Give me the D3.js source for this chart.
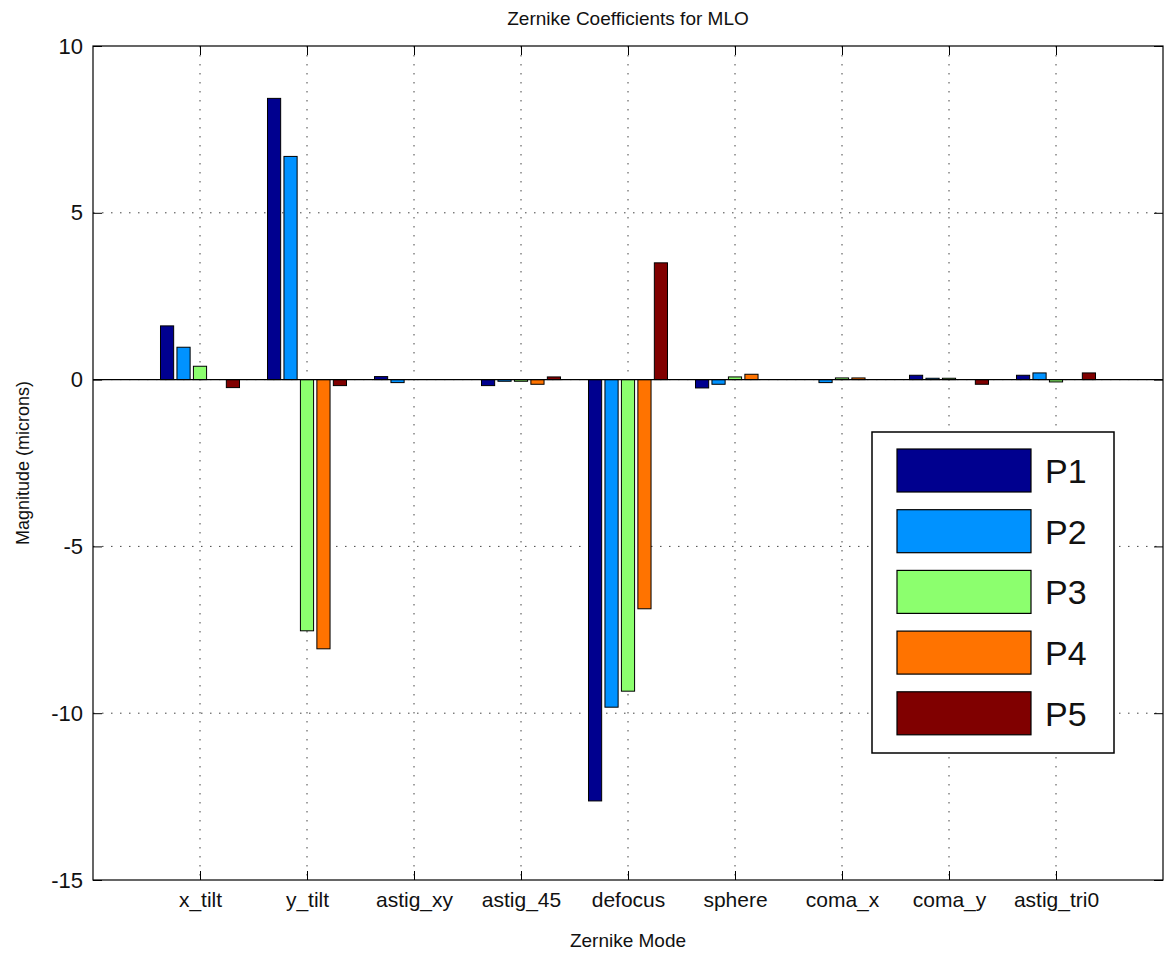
<!DOCTYPE html>
<html>
<head>
<meta charset="utf-8">
<script src="https://cdn.jsdelivr.net/npm/d3@7"></script>
<style>
  html, body { margin: 0; padding: 0; background: #ffffff; }
  svg text { font-family: "Liberation Sans", Arial, sans-serif; fill: #111; }
</style>
</head>
<body>
<svg id="chart" width="1164" height="964"></svg>
<script>
// Zernike modes along the x axis
const categories = ["x_tilt", "y_tilt", "astig_xy", "astig_45", "defocus", "sphere", "coma_x", "coma_y", "astig_tri0"];

// Coefficient magnitudes (microns) per position
const P1 = [1.61, 8.43, 0.09, -0.18, -12.63, -0.25, 0.00, 0.13, 0.13];
const P2 = [0.97, 6.69, -0.09, -0.05, -9.82, -0.14, -0.09, 0.04, 0.20];
const P3 = [0.40, -7.53, 0.00, -0.05, -9.34, 0.08, 0.05, 0.04, -0.07];
const P4 = [0.00, -8.07, 0.00, -0.14, -6.87, 0.16, 0.05, 0.00, 0.00];
const P5 = [-0.24, -0.18, 0.00, 0.08, 3.50, 0.00, 0.00, -0.14, 0.20];

const seriesNames = ["P1", "P2", "P3", "P4", "P5"];
const seriesColors = ["#00008f", "#0092ff", "#8cff6e", "#ff7300", "#800000"];
const yTicks = [-15, -10, -5, 0, 5, 10];

const series = [P1, P2, P3, P4, P5].map((values, i) => ({ name: seriesNames[i], color: seriesColors[i], values }));

const svg = d3.select("#chart");
const plot = { left: 93, right: 1163, top: 46, bottom: 880 };

// Categories sit at 1..n on a numeric axis spanning 0..n+1
const x = d3.scaleLinear().domain([0, categories.length + 1]).range([plot.left, plot.right]);
const y = d3.scaleLinear().domain([-15, 10]).range([plot.bottom, plot.top]);

// Grouped bar geometry
const nSeries = series.length;
const groupWidth = Math.min(0.8, nSeries / (nSeries + 1.5));
const slot = groupWidth / nSeries;
const barWidth = 0.8 * slot;

// Dotted grid
const grid = svg.append("g").attr("class", "grid");
grid.selectAll("line.vg").data(categories).join("line")
  .attr("class", "vg")
  .attr("x1", (d, i) => x(i + 1)).attr("x2", (d, i) => x(i + 1))
  .attr("y1", plot.top).attr("y2", plot.bottom)
  .attr("stroke", "#444").attr("stroke-width", 1).attr("stroke-dasharray", "1.5,7.5");
grid.selectAll("line.hg").data(yTicks.filter(t => t !== -15 && t !== 10)).join("line")
  .attr("class", "hg")
  .attr("x1", plot.left).attr("x2", plot.right)
  .attr("y1", d => y(d)).attr("y2", d => y(d))
  .attr("stroke", "#444").attr("stroke-width", 1).attr("stroke-dasharray", "1.5,7.5");

// Bars
const bars = svg.append("g").attr("class", "bars");
series.forEach((s, si) => {
  const offset = (si - (nSeries - 1) / 2) * slot;
  bars.append("g").selectAll("rect").data(s.values).join("rect")
    .attr("x", (d, i) => x(i + 1 + offset - barWidth / 2))
    .attr("width", x(barWidth) - x(0))
    .attr("y", d => y(Math.max(0, d)))
    .attr("height", d => Math.abs(y(d) - y(0)))
    .attr("fill", s.color)
    .attr("stroke", "#000")
    .attr("stroke-width", 1);
});

// Baseline at zero
svg.append("line")
  .attr("x1", plot.left).attr("x2", plot.right)
  .attr("y1", y(0)).attr("y2", y(0))
  .attr("stroke", "#000").attr("stroke-width", 1.2);

// Axes with inward ticks
const tickLen = 9;
const xAxis = d3.axisBottom(x)
  .tickValues(d3.range(1, categories.length + 1))
  .tickFormat(d => categories[d - 1])
  .tickSizeInner(-tickLen).tickSizeOuter(0).tickPadding(12);
const gx = svg.append("g").attr("transform", `translate(0,${plot.bottom})`).call(xAxis);
gx.selectAll("text").style("font-size", "21px").style("font-family", "'Liberation Sans', Arial, sans-serif");

const yAxis = d3.axisLeft(y)
  .tickValues(yTicks)
  .tickFormat(d => String(d))
  .tickSizeInner(-tickLen).tickSizeOuter(0).tickPadding(10);
const gy = svg.append("g").attr("transform", `translate(${plot.left},0)`).call(yAxis);
gy.selectAll("text").style("font-size", "22px").style("font-family", "'Liberation Sans', Arial, sans-serif");

// Mirrored ticks on top and right
const gxTop = svg.append("g").attr("transform", `translate(0,${plot.top})`)
  .call(d3.axisTop(x).tickValues(d3.range(1, categories.length + 1)).tickFormat("").tickSizeInner(-tickLen).tickSizeOuter(0));
const gyRight = svg.append("g").attr("transform", `translate(${plot.right},0)`)
  .call(d3.axisRight(y).tickValues(yTicks).tickFormat("").tickSizeInner(-tickLen).tickSizeOuter(0));
[gx, gy, gxTop, gyRight].forEach(g => {
  g.select(".domain").remove();
  g.selectAll(".tick line").attr("stroke", "#000");
  g.selectAll(".tick text").attr("fill", "#1a1a1a");
});

// Axes box
svg.append("rect")
  .attr("x", plot.left).attr("y", plot.top)
  .attr("width", plot.right - plot.left).attr("height", plot.bottom - plot.top)
  .attr("fill", "none").attr("stroke", "#000").attr("stroke-width", 1.2);

// Title and axis labels
svg.append("text")
  .attr("x", (plot.left + plot.right) / 2).attr("y", 25)
  .attr("text-anchor", "middle").style("font-size", "19px")
  .text("Zernike Coefficients for MLO");
svg.append("text")
  .attr("x", (plot.left + plot.right) / 2).attr("y", 947)
  .attr("text-anchor", "middle").style("font-size", "19px")
  .text("Zernike Mode");
svg.append("text")
  .attr("transform", `translate(29,${(plot.top + plot.bottom) / 2}) rotate(-90)`)
  .attr("text-anchor", "middle").style("font-size", "18px")
  .text("Magnitude (microns)");

// Legend
const legend = svg.append("g").attr("class", "legend");
const lg = { x: 872, y: 432, w: 242, h: 321 };
legend.append("rect")
  .attr("x", lg.x).attr("y", lg.y).attr("width", lg.w).attr("height", lg.h)
  .attr("fill", "#fff").attr("stroke", "#000").attr("stroke-width", 1.5);
const rowStep = 60.7;
const items = legend.selectAll("g.item").data(series).join("g")
  .attr("class", "item")
  .attr("transform", (d, i) => `translate(0,${lg.y + 17 + i * rowStep})`);
items.append("rect")
  .attr("x", 897).attr("y", 0).attr("width", 134).attr("height", 43)
  .attr("fill", d => d.color).attr("stroke", "#000").attr("stroke-width", 1.2);
items.append("text")
  .attr("x", 1045).attr("y", 34)
  .style("font-size", "34px")
  .text(d => d.name);
</script>
</body>
</html>
